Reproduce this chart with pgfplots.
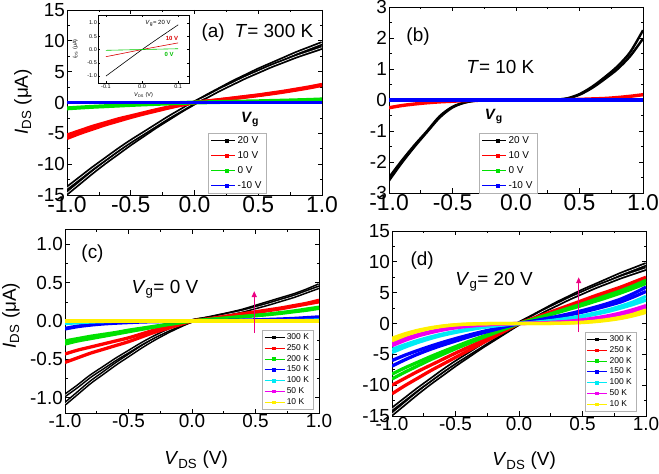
\documentclass[border=0pt]{standalone}
\usepackage{fontspec}
\setmainfont{Liberation Sans}
\usepackage{pgfplots}
\pgfplotsset{compat=1.18}
\usepackage{pgfplotstable}
\usetikzlibrary{arrows.meta}

\definecolor{ored}{RGB}{255,0,0}
\definecolor{ogreen}{RGB}{0,225,0}
\definecolor{oblue}{RGB}{0,0,255}
\definecolor{ocyan}{RGB}{0,235,245}
\definecolor{omag}{RGB}{240,0,240}
\definecolor{oyel}{RGB}{255,240,0}
\definecolor{apink}{RGB}{236,0,130}
\newcommand{\fs}[1]{\fontsize{#1}{#1}\selectfont}

% panel (a): T = 300 K
\pgfplotstableread{
x     kA     kB     rA     rB     g      bl
-1.0 -14.7 -13.9 -5.8 -5.3 -0.95 0
-0.9 -13.0 -12.3 -5.0 -4.6 -0.82 0
-0.8 -11.3 -10.7 -4.3 -3.9 -0.70 0
-0.7 -9.7 -9.2 -3.6 -3.3 -0.60 0
-0.6 -8.2 -7.7 -3.0 -2.7 -0.50 0
-0.5 -6.7 -6.3 -2.4 -2.2 -0.40 0
-0.4 -5.3 -5.0 -1.85 -1.7 -0.31 0
-0.3 -3.9 -3.7 -1.35 -1.2 -0.23 0
-0.2 -2.6 -2.4 -0.85 -0.75 -0.15 0
-0.1 -1.3 -1.2 -0.4 -0.35 -0.07 0
0.0 -0.1 0.0 0 0 0 0
0.1 1.1 1.0 0.22 0.2 0.04 0
0.2 2.2 2.1 0.45 0.42 0.08 0
0.3 3.3 3.1 0.7 0.65 0.12 0
0.4 4.3 4.1 0.95 0.9 0.16 0
0.5 5.3 5.0 1.2 1.15 0.2 0
0.6 6.2 5.9 1.5 1.42 0.25 0
0.7 7.1 6.7 1.8 1.72 0.3 0
0.8 8.0 7.5 2.15 2.05 0.36 0
0.9 8.8 8.2 2.5 2.4 0.42 0
1.0 9.6 8.9 2.9 2.8 0.5 0
}\tabA

% panel (b): T = 10 K
\pgfplotstableread{
x kA kB r g bl
-1.0 -2.6 -2.5 -0.25 0 0
-0.9 -2.03 -1.96 -0.18 0 0
-0.8 -1.51 -1.46 -0.13 0 0
-0.7 -1.03 -1.0 -0.09 0 0
-0.6 -0.56 -0.52 -0.06 0 0
-0.5 -0.24 -0.22 -0.04 0 0
-0.4 -0.08 -0.075 -0.02 0 0
-0.3 -0.015 -0.012 -0.01 0 0
-0.2 0 0 0 0 0
-0.1 0 0 0 0 0
0.0 0 0 0 0 0
0.1 0 0 0 0 0
0.2 0 0 0 0 0
0.3 0.01 0.01 0.005 0 0
0.4 0.05 0.045 0.01 0 0
0.5 0.19 0.17 0.02 0 0
0.6 0.43 0.39 0.035 0 0
0.7 0.74 0.68 0.05 0 0
0.8 1.09 1.0 0.08 0 0
0.9 1.55 1.42 0.12 0 0
1.0 2.25 1.98 0.17 0 0
}\tabB

% panel (c): Vg = 0 V
\pgfplotstableread{
x kA kB rA rB gA gB bl cy mg ye
-1.0 -1.08 -0.97 -0.54 -0.43 -0.30 -0.26 -0.10 -0.03 0 0
-0.9 -0.94 -0.85 -0.48 -0.38 -0.26 -0.23 -0.07 -0.02 0 0
-0.8 -0.80 -0.72 -0.42 -0.34 -0.23 -0.20 -0.05 -0.01 0 0
-0.7 -0.68 -0.61 -0.37 -0.30 -0.20 -0.175 -0.035 -0.005 0 0
-0.6 -0.56 -0.50 -0.32 -0.26 -0.17 -0.15 -0.025 0 0 0
-0.5 -0.45 -0.40 -0.27 -0.22 -0.14 -0.12 -0.017 0 0 0
-0.4 -0.34 -0.30 -0.21 -0.17 -0.11 -0.095 -0.01 0 0 0
-0.3 -0.24 -0.21 -0.15 -0.12 -0.08 -0.07 -0.006 0 0 0
-0.2 -0.15 -0.13 -0.10 -0.08 -0.05 -0.045 -0.003 0 0 0
-0.1 -0.07 -0.06 -0.05 -0.04 -0.025 -0.02 -0.001 0 0 0
0.0 0 0 0 0 0 0 0 0 0 0
0.1 0.03 0.03 0.02 0.02 0.015 0.013 0.001 0 0 0
0.2 0.065 0.06 0.045 0.04 0.03 0.027 0.003 0 0 0
0.3 0.10 0.095 0.07 0.065 0.045 0.04 0.005 0 0 0
0.4 0.14 0.13 0.095 0.09 0.06 0.055 0.008 0 0 0
0.5 0.19 0.175 0.12 0.11 0.075 0.068 0.012 0 0 0
0.6 0.24 0.22 0.145 0.135 0.09 0.083 0.017 0 0 0
0.7 0.29 0.27 0.17 0.16 0.11 0.10 0.023 0 0 0
0.8 0.34 0.32 0.20 0.19 0.13 0.12 0.03 0.003 0 0
0.9 0.40 0.38 0.23 0.22 0.155 0.14 0.04 0.005 0 0
1.0 0.47 0.44 0.27 0.25 0.18 0.165 0.05 0.01 0 0
}\tabC

% panel (d): Vg = 20 V
\pgfplotstableread{
x kA kB rA rB gA gB bA bB cA cB mA mB yA yB
-1.0 -14.7 -13.9 -11.4 -10.0 -9.0 -8.2 -6.9 -6.0 -4.7 -4.2 -3.6 -3.2 -2.8 -2.4
-0.9 -13.0 -12.3 -10.1 -8.9 -7.9 -7.2 -5.9 -5.15 -3.85 -3.45 -2.75 -2.45 -1.95 -1.68
-0.8 -11.3 -10.7 -8.9 -7.8 -6.9 -6.3 -5.0 -4.4 -3.1 -2.78 -2.05 -1.83 -1.3 -1.12
-0.7 -9.7 -9.2 -7.7 -6.8 -5.9 -5.4 -4.2 -3.7 -2.45 -2.2 -1.5 -1.33 -0.8 -0.7
-0.6 -8.2 -7.7 -6.6 -5.8 -5.0 -4.55 -3.5 -3.05 -1.9 -1.7 -1.05 -0.93 -0.45 -0.4
-0.5 -6.7 -6.3 -5.5 -4.8 -4.1 -3.75 -2.85 -2.45 -1.45 -1.28 -0.7 -0.62 -0.22 -0.2
-0.4 -5.3 -5.0 -4.4 -3.85 -3.25 -2.95 -2.2 -1.9 -1.05 -0.92 -0.45 -0.4 -0.1 -0.09
-0.3 -3.9 -3.7 -3.3 -2.9 -2.4 -2.2 -1.6 -1.38 -0.7 -0.62 -0.27 -0.24 -0.04 -0.03
-0.2 -2.6 -2.4 -2.2 -1.95 -1.6 -1.45 -1.05 -0.9 -0.42 -0.37 -0.14 -0.12 -0.01 -0.01
-0.1 -1.3 -1.2 -1.1 -1.0 -0.8 -0.7 -0.5 -0.43 -0.18 -0.16 -0.06 -0.05 0 0
0.0 0 0 0 0 0 0 0 0 0 0 0 0 0 0
0.1 1.1 1.0 0.75 0.7 0.6 0.55 0.35 0.3 0.15 0.13 0.05 0.04 0 0
0.2 2.2 2.1 1.5 1.4 1.25 1.15 0.75 0.65 0.35 0.3 0.12 0.1 0.01 0.01
0.3 3.3 3.1 2.25 2.1 1.9 1.75 1.15 1.0 0.6 0.52 0.22 0.19 0.04 0.03
0.4 4.3 4.1 3.0 2.8 2.55 2.35 1.6 1.4 0.9 0.78 0.38 0.33 0.1 0.08
0.5 5.3 5.0 3.75 3.5 3.2 2.95 2.1 1.85 1.25 1.1 0.6 0.52 0.2 0.16
0.6 6.2 5.9 4.5 4.2 3.9 3.6 2.65 2.35 1.7 1.5 0.9 0.78 0.38 0.3
0.7 7.1 6.7 5.2 4.9 4.6 4.25 3.25 2.9 2.2 1.95 1.25 1.1 0.65 0.52
0.8 8.0 7.5 5.9 5.6 5.3 4.95 3.95 3.5 2.8 2.5 1.7 1.5 1.0 0.82
0.9 8.8 8.2 6.7 6.3 6.1 5.7 4.85 4.3 3.5 3.1 2.25 1.95 1.5 1.25
1.0 9.6 8.9 7.5 7.0 7.0 6.5 5.9 5.2 4.4 3.8 2.9 2.5 2.2 1.8
}\tabD

\pgfplotsset{
  panel/.style={
    scale only axis, anchor=south west,
    xmin=-1, xmax=1, xtick={-1,-0.5,0,0.5,1},
    minor x tick num=1, minor y tick num=1,
    axis line style={line width=0.9pt},
    major tick style={line width=0.8pt, black},
    minor tick style={line width=0.6pt, black},
    major tick length=4.5bp, minor tick length=2.5bp,
    /pgf/number format/assume math mode=true,
    x tick label style={/pgf/number format/fixed, /pgf/number format/fixed zerofill, /pgf/number format/precision=1, inner ysep=1.5pt},
    y tick label style={font=\fs{19}, inner xsep=2pt},
    legend cell align=left,
  },
  band/.style={line width=3.3pt, smooth, no markers, forget plot},
  ladder/.style={black, line width=1.8pt, double=white, double distance=0.6pt, smooth, no markers, forget plot},
  legA/.style={legend image code/.code={\draw[mark repeat=2,mark phase=2,##1] plot coordinates {(0bp,0bp) (15bp,0bp) (24bp,0bp)};}},
  legC/.style={legend image code/.code={\draw[mark repeat=2,mark phase=2,##1] plot coordinates {(0bp,0bp) (9bp,0bp) (20bp,0bp)};}},
}

\begin{document}
\begin{tikzpicture}
\path (0,0) rectangle (659bp,474bp);

% ---------------- (a) ----------------
\begin{axis}[panel, at={(67bp,279bp)}, width=255bp, height=185bp,
  ymin=-15, ymax=15, ytick={-15,-10,...,15},
  x tick label style={font=\fs{23}},
  ylabel={\textit{I}\textsubscript{DS} (μA)},
  ylabel style={font=\fs{19}, at={(axis description cs:-0.173,0.503)}, anchor=center},
  legA,
  legend style={at={(axis description cs:0.553,0.011)}, anchor=south west, draw=gray!60, fill=white, font=\fs{10}, inner xsep=3pt, inner ysep=1pt, row sep=2.6pt},
]
\addplot[ladder] table[x=x,y=kA]{\tabA};
\addplot[ladder] table[x=x,y=kB]{\tabA};
\addplot[band, ored, line width=3.6pt] table[x=x,y=rA]{\tabA};
\addplot[band, ored, line width=3.6pt] table[x=x,y=rB]{\tabA};
\addplot[band, ogreen, line width=4pt] table[x=x,y=g]{\tabA};
\addplot[band, oblue, line width=4pt] table[x=x,y=bl]{\tabA};
\addlegendimage{black, line width=0.5pt, mark=square*, mark size=1.4pt}
\addlegendentry{20 V}
\addlegendimage{ored, line width=0.5pt, mark=square*, mark size=1.4pt}
\addlegendentry{10 V}
\addlegendimage{ogreen, line width=0.5pt, mark=square*, mark size=1.4pt}
\addlegendentry{0 V}
\addlegendimage{oblue, line width=0.5pt, mark=square*, mark size=1.4pt}
\addlegendentry{-10 V}
\node[font=\fs{19}, anchor=base west] at (axis description cs:0.514,0.854) {(a)\hspace{10bp}\textit{T}= 300 K};
\node[font=\bfseries\fs{15}, anchor=center] at (axis description cs:0.718,0.41) {\textit{V}\textsubscript{g}};
\end{axis}

% inset
\begin{axis}[at={(98bp,391bp)}, anchor=south west, scale only axis, width=91bp, height=68bp,
  xmin=-0.122, xmax=0.13, ymin=-1.26, ymax=1.3,
  xtick={-0.1,0,0.1}, ytick={-1,-0.5,0,0.5,1},
  /pgf/number format/assume math mode=true,
  tick label style={font=\fs{5.5}, /pgf/number format/fixed, /pgf/number format/fixed zerofill, /pgf/number format/precision=1},
  x tick label style={inner ysep=1pt}, y tick label style={inner xsep=1pt},
  major tick length=2bp, axis line style={line width=0.5pt}, tick style={line width=0.4pt, black},
  axis background/.style={fill=white},
  xlabel={\textit{V}\textsubscript{DS} (V)},
  ylabel={\textit{I}\textsubscript{DS} (μA)},
  xlabel style={font=\fs{5.5}, at={(axis description cs:0.5,-0.18)}, anchor=center},
  ylabel style={font=\fs{5.5}, at={(axis description cs:-0.25,0.5)}, anchor=center},
]
\addplot[black, line width=0.6pt, no markers] coordinates {(-0.1,-1.0) (-0.05,-0.5) (0,0) (0.05,0.47) (0.1,0.93)};
\addplot[red!85!black, line width=0.6pt, no markers] coordinates {(-0.1,-0.27) (0,0) (0.1,0.25)};
\addplot[green!80!black, line width=0.6pt, no markers] coordinates {(-0.1,-0.03) (0,0) (0.1,0.03)};
\node[font=\fs{6}] at (axis cs:0.044,0.98) {\textit{V}\textsubscript{g}= 20 V};
\node[font=\bfseries\fs{6}, text=red!85!black] at (axis cs:0.083,0.41) {10 V};
\node[font=\bfseries\fs{6}, text=green!75!black] at (axis cs:0.075,-0.2) {0 V};
\end{axis}

% ---------------- (b) ----------------
\begin{axis}[panel, at={(389bp,281bp)}, width=254bp, height=186bp,
  ymin=-3, ymax=3, ytick={-3,...,3},
  x tick label style={font=\fs{23}},
  legA,
  legend style={at={(axis description cs:0.354,0.0)}, anchor=south west, draw=gray!60, fill=white, font=\fs{10}, inner xsep=3pt, inner ysep=1pt, row sep=2.6pt},
]
\addplot[band, black, line width=2.4pt] table[x=x,y=kA]{\tabB};
\addplot[band, black, line width=2.4pt] table[x=x,y=kB]{\tabB};
\addplot[band, ored, line width=3.4pt] table[x=x,y=r]{\tabB};
\addplot[band, ogreen, line width=3.4pt] table[x=x,y=g]{\tabB};
\addplot[band, oblue, line width=3.6pt] table[x=x,y=bl]{\tabB};
\addlegendimage{black, line width=0.5pt, mark=square*, mark size=1.4pt}
\addlegendentry{20 V}
\addlegendimage{ored, line width=0.5pt, mark=square*, mark size=1.4pt}
\addlegendentry{10 V}
\addlegendimage{ogreen, line width=0.5pt, mark=square*, mark size=1.4pt}
\addlegendentry{0 V}
\addlegendimage{oblue, line width=0.5pt, mark=square*, mark size=1.4pt}
\addlegendentry{-10 V}
\node[font=\fs{19}, anchor=base west] at (axis description cs:0.055,0.812) {(b)};
\node[font=\fs{19}, anchor=base west] at (axis description cs:0.291,0.64) {\textit{T}= 10 K};
\node[font=\bfseries\fs{15}, anchor=center] at (axis description cs:0.413,0.41) {\textit{V}\textsubscript{g}};
\end{axis}

% ---------------- (c) ----------------
\begin{axis}[panel, at={(65bp,61bp)}, width=254bp, height=184bp,
  ymin=-1.2, ymax=1.2, ytick={-1,-0.5,0,0.5,1},
  y tick label style={/pgf/number format/fixed, /pgf/number format/fixed zerofill, /pgf/number format/precision=1},
  x tick label style={font=\fs{19}},
  ylabel={\textit{I}\textsubscript{DS} (μA)},
  ylabel style={font=\fs{19}, at={(axis description cs:-0.213,0.53)}, anchor=center},
  xlabel={\textit{V}\textsubscript{DS} (V)},
  xlabel style={font=\fs{19}, at={(axis description cs:0.516,-0.255)}, anchor=center},
  legC,
  legend style={at={(axis description cs:0.776,0.022)}, anchor=south west, draw=gray!60, fill=white, font=\fs{8.5}, inner xsep=2pt, inner ysep=1pt, row sep=-0.6pt},
]
\addplot[ladder, line width=1.6pt, double distance=0.5pt] table[x=x,y=kA]{\tabC};
\addplot[ladder, line width=1.6pt, double distance=0.5pt] table[x=x,y=kB]{\tabC};
\addplot[band, ored] table[x=x,y=rA]{\tabC};
\addplot[band, ored] table[x=x,y=rB]{\tabC};
\addplot[band, ogreen] table[x=x,y=gA]{\tabC};
\addplot[band, ogreen] table[x=x,y=gB]{\tabC};
\addplot[band, oblue, line width=3.8pt] table[x=x,y=bl]{\tabC};
\addplot[band, ocyan, line width=3.8pt] table[x=x,y=cy]{\tabC};
\addplot[band, omag, line width=3.8pt] table[x=x,y=mg]{\tabC};
\addplot[band, oyel, line width=4pt] table[x=x,y=ye]{\tabC};
\addlegendimage{black, line width=0.5pt, mark=square*, mark size=1.3pt}
\addlegendentry{300 K}
\addlegendimage{ored, line width=0.5pt, mark=square*, mark size=1.3pt}
\addlegendentry{250 K}
\addlegendimage{ogreen, line width=0.5pt, mark=square*, mark size=1.3pt}
\addlegendentry{200 K}
\addlegendimage{oblue, line width=0.5pt, mark=square*, mark size=1.3pt}
\addlegendentry{150 K}
\addlegendimage{ocyan, line width=0.5pt, mark=square*, mark size=1.3pt}
\addlegendentry{100 K}
\addlegendimage{omag, line width=0.5pt, mark=square*, mark size=1.3pt}
\addlegendentry{50 K}
\addlegendimage{oyel, line width=0.5pt, mark=square*, mark size=1.3pt}
\addlegendentry{10 K}
\draw[apink, line width=1.2pt, -{Triangle[length=6bp,width=5bp]}] (axis cs:0.49,-0.15) -- (axis cs:0.49,0.39);
\node[font=\fs{19}, anchor=base west] at (axis description cs:0.051,0.837) {(c)};
\node[font=\fs{19}, anchor=base west] at (axis description cs:0.248,0.652) {\textit{V}\textsubscript{g}= 0 V};
\end{axis}

% ---------------- (d) ----------------
\begin{axis}[panel, at={(392bp,58bp)}, width=254bp, height=185bp,
  ymin=-15, ymax=15, ytick={-15,-10,...,15},
  x tick label style={font=\fs{19}},
  xlabel={\textit{V}\textsubscript{DS} (V)},
  xlabel style={font=\fs{19}, at={(axis description cs:0.52,-0.243)}, anchor=center},
  legC,
  legend style={at={(axis description cs:0.76,0.027)}, anchor=south west, draw=gray!60, fill=white, font=\fs{8.5}, inner xsep=2pt, inner ysep=1pt, row sep=-0.6pt},
]
\addplot[ladder] table[x=x,y=kA]{\tabD};
\addplot[ladder] table[x=x,y=kB]{\tabD};
\addplot[band, ored] table[x=x,y=rA]{\tabD};
\addplot[band, ored] table[x=x,y=rB]{\tabD};
\addplot[band, ogreen] table[x=x,y=gA]{\tabD};
\addplot[band, ogreen] table[x=x,y=gB]{\tabD};
\addplot[band, oblue] table[x=x,y=bA]{\tabD};
\addplot[band, oblue] table[x=x,y=bB]{\tabD};
\addplot[band, ocyan] table[x=x,y=cA]{\tabD};
\addplot[band, ocyan] table[x=x,y=cB]{\tabD};
\addplot[band, omag] table[x=x,y=mA]{\tabD};
\addplot[band, omag] table[x=x,y=mB]{\tabD};
\addplot[band, oyel] table[x=x,y=yA]{\tabD};
\addplot[band, oyel] table[x=x,y=yB]{\tabD};
\addlegendimage{black, line width=0.5pt, mark=square*, mark size=1.3pt}
\addlegendentry{300 K}
\addlegendimage{ored, line width=0.5pt, mark=square*, mark size=1.3pt}
\addlegendentry{250 K}
\addlegendimage{ogreen, line width=0.5pt, mark=square*, mark size=1.3pt}
\addlegendentry{200 K}
\addlegendimage{oblue, line width=0.5pt, mark=square*, mark size=1.3pt}
\addlegendentry{150 K}
\addlegendimage{ocyan, line width=0.5pt, mark=square*, mark size=1.3pt}
\addlegendentry{100 K}
\addlegendimage{omag, line width=0.5pt, mark=square*, mark size=1.3pt}
\addlegendentry{50 K}
\addlegendimage{oyel, line width=0.5pt, mark=square*, mark size=1.3pt}
\addlegendentry{10 K}
\draw[apink, line width=1.2pt, -{Triangle[length=6bp,width=5bp]}] (axis cs:0.47,-1.4) -- (axis cs:0.47,7.5);
\node[font=\fs{19}, anchor=base west] at (axis description cs:0.059,0.816) {(d)};
\node[font=\fs{19}, anchor=base west] at (axis description cs:0.236,0.703) {\textit{V}\textsubscript{g}= 20 V};
\end{axis}

\pgfresetboundingbox
\useasboundingbox (0,0) rectangle (659bp,474bp);
\end{tikzpicture}
\end{document}
